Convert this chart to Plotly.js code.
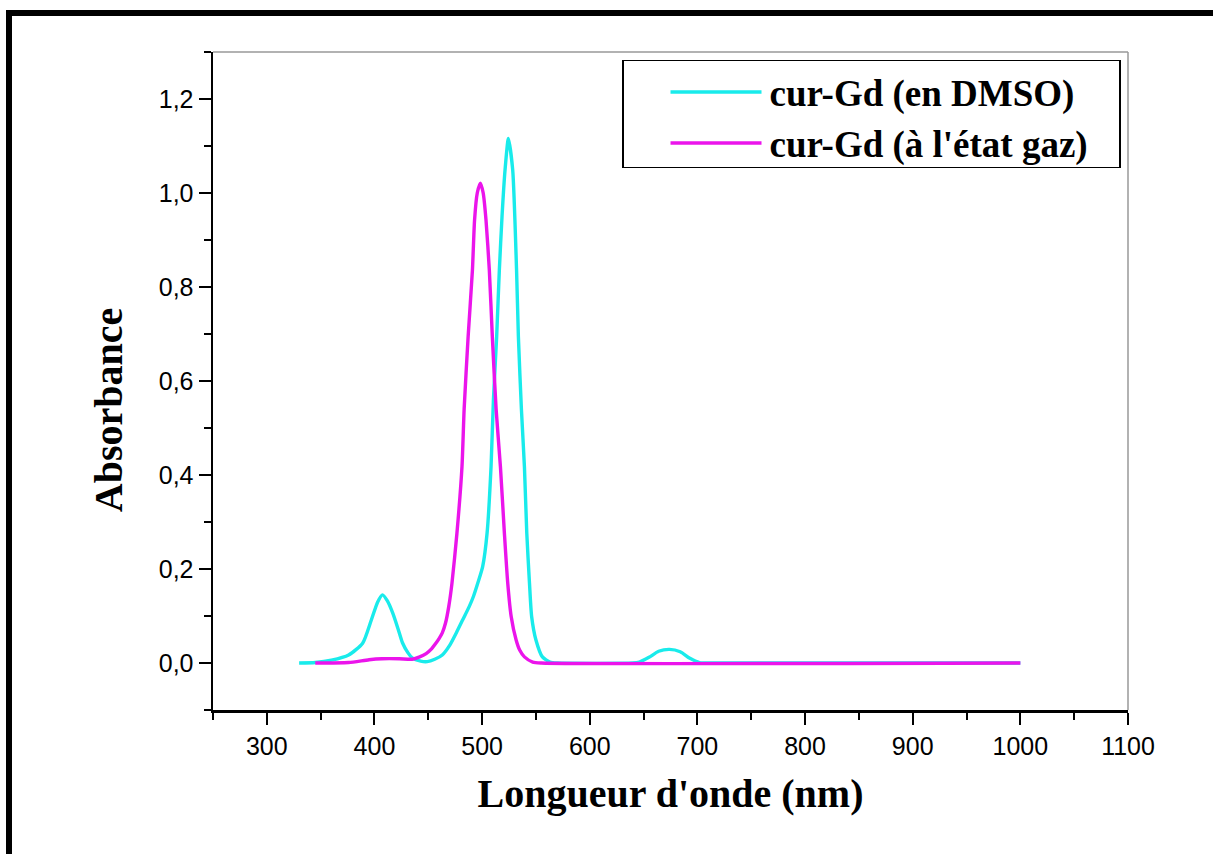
<!DOCTYPE html>
<html>
<head>
<meta charset="utf-8">
<script src="https://cdn.plot.ly/plotly-3.0.1.min.js"></script>
<style>html,body{margin:0;padding:0;background:#fff;}#chart{width:1213px;height:854px;}</style>
</head>
<body>
<div id="chart"></div>
<script>
// Series names
const seriesNames = ["cur-Gd (en DMSO)", "cur-Gd (à l'état gaz)"];

// cur-Gd in DMSO (wavelength nm, absorbance)
const dmsoWavelength = [330, 345, 360, 376, 389, 397, 403, 407.5, 412, 417, 422, 426, 431, 435, 443, 449, 456, 463, 470, 476, 482, 488, 492, 496, 500.5, 504.6, 508.3, 510.5, 513.5, 516, 518.5, 521.3, 524.4, 528.4, 532, 533.7, 536.5, 539.3, 541.5, 544, 546, 550, 556, 563, 570, 640, 646, 655, 664, 674, 684, 693, 702, 710, 1000];
const dmsoAbsorbance = [0, 0.001, 0.006, 0.017, 0.042, 0.091, 0.13, 0.145, 0.132, 0.106, 0.072, 0.043, 0.022, 0.011, 0.004, 0.003, 0.008, 0.017, 0.038, 0.064, 0.092, 0.12, 0.142, 0.17, 0.205, 0.276, 0.418, 0.56, 0.694, 0.836, 0.95, 1.049, 1.116, 1.049, 0.836, 0.694, 0.54, 0.418, 0.276, 0.17, 0.099, 0.049, 0.013, 0.002, 0, 0, 0.002, 0.012, 0.025, 0.029, 0.024, 0.01, 0.001, 0, 0];

// cur-Gd in gas phase (wavelength nm, absorbance)
const gasWavelength = [345, 376, 395, 407, 423, 435, 442, 448, 453, 457, 460, 463, 466, 469, 472, 476.6, 481.3, 483.3, 487, 491, 493, 495.5, 498.4, 501, 503.6, 506.7, 509.5, 513, 517, 520.7, 523.8, 527, 531.6, 535, 539.3, 547, 555, 1000];
const gasAbsorbance = [0, 0.001, 0.007, 0.009, 0.009, 0.008, 0.013, 0.02, 0.03, 0.042, 0.052, 0.064, 0.085, 0.12, 0.17, 0.276, 0.418, 0.54, 0.694, 0.836, 0.943, 1.0, 1.021, 1.0, 0.943, 0.836, 0.694, 0.54, 0.418, 0.276, 0.17, 0.099, 0.049, 0.027, 0.013, 0.002, 0, 0];

// Axis ticks
const xTickValues = [300, 400, 500, 600, 700, 800, 900, 1000, 1100];
const yTickValues = [0, 0.2, 0.4, 0.6, 0.8, 1.0, 1.2];

const serif = "Times New Roman, Liberation Serif, serif";
const sans = "Arial, Liberation Sans, sans-serif";

const traces = [
  {x: dmsoWavelength, y: dmsoAbsorbance, name: seriesNames[0], type: 'scatter', mode: 'lines',
   line: {color: '#19EBEB', width: 3.4, shape: 'spline', smoothing: 0.6}},
  {x: gasWavelength, y: gasAbsorbance, name: seriesNames[1], type: 'scatter', mode: 'lines',
   line: {color: '#EB14EB', width: 3.4, shape: 'spline', smoothing: 0.6}}
];

const layout = {
  width: 1213, height: 854,
  margin: {l: 213, r: 85, t: 52, b: 144, pad: 0},
  paper_bgcolor: '#ffffff', plot_bgcolor: '#ffffff',
  separators: ',.',
  showlegend: true,
  legend: {
    x: 0.447, y: 0.988, xanchor: 'left', yanchor: 'top',
    bgcolor: '#ffffff', bordercolor: '#000000', borderwidth: 1.5,
    font: {family: serif, size: 37, color: '#000000', weight: 'bold'},
    itemwidth: 136, tracegroupgap: 0
  },
  xaxis: {
    range: [250, 1100], tickvals: xTickValues, ticks: 'outside', ticklen: 12, tickwidth: 2,
    tickcolor: '#000', linecolor: '#000', linewidth: 2.5, showline: true, showgrid: false, zeroline: false,
    tickfont: {family: sans, size: 25, color: '#000'}, ticklabelstandoff: 0,
    minor: {dtick: 50, tick0: 250, ticks: 'outside', ticklen: 7, tickwidth: 2, tickcolor: '#000', showgrid: false},
    title: {text: "Longueur d'onde (nm)", font: {family: serif, size: 40, color: '#000', weight: 'bold'}, standoff: 21}
  },
  yaxis: {
    range: [-0.1, 1.3], tickvals: yTickValues, tickformat: '.1f', ticks: 'outside', ticklen: 12, tickwidth: 2,
    tickcolor: '#000', linecolor: '#000', linewidth: 2.5, showline: true, showgrid: false, zeroline: false,
    tickfont: {family: sans, size: 25, color: '#000'}, ticklabelstandoff: 0,
    minor: {dtick: 0.1, tick0: -0.1, ticks: 'outside', ticklen: 7, tickwidth: 2, tickcolor: '#000', showgrid: false},
    title: {text: "Absorbance\u2800\u2800", font: {family: serif, size: 40, color: '#000', weight: 'bold'}, standoff: 24}
  },
  shapes: [
    {type: 'line', xref: 'paper', yref: 'paper', x0: 0, x1: 1, y0: 1, y1: 1, line: {color: '#999999', width: 1.5}},
    {type: 'line', xref: 'paper', yref: 'paper', x0: 1, x1: 1, y0: 0, y1: 1, line: {color: '#999999', width: 1.5}},
    {type: 'rect', xref: 'paper', yref: 'paper', x0: -0.22295, x1: 1.25, y0: -0.3, y1: 1.0593,
     line: {color: '#000000', width: 6}, fillcolor: 'rgba(0,0,0,0)'}
  ]
};

Plotly.newPlot('chart', traces, layout, {displayModeBar: false, staticPlot: true}).then(function (gd) {
  // lengthen legend sample lines to match the original's long swatches
  gd.querySelectorAll('.legend .legendlines path').forEach(function (p) {
    p.setAttribute('d', 'M47,0h91');
  });
  // widen the legend frame to match the original box
  gd.querySelectorAll('.legend rect.bg').forEach(function (r) {
    r.setAttribute('width', 497);
    r.setAttribute('height', 107);
  });
});
</script>
</body>
</html>
